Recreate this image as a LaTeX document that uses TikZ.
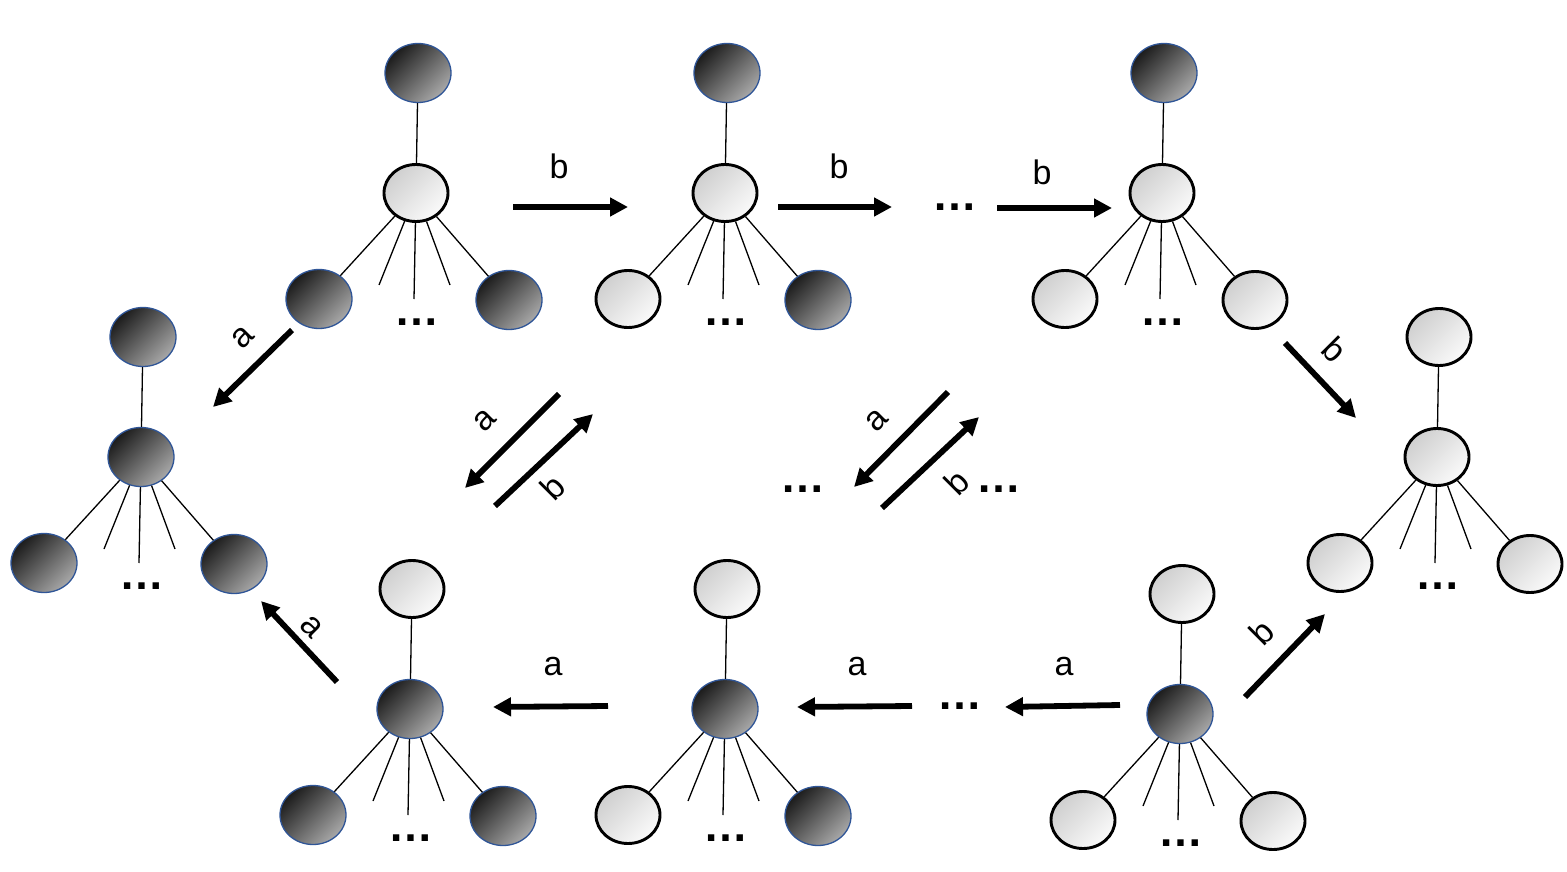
\documentclass[tikz,border=0pt]{standalone}
\usepackage{fontspec}
\setmainfont{Liberation Sans}
\usetikzlibrary{shapes.geometric,arrows.meta,calc}
\definecolor{darkA}{HTML}{1C1C1C}
\definecolor{darkB}{HTML}{A8A8A8}
\definecolor{lightA}{HTML}{CFCFCF}
\definecolor{lightB}{HTML}{FAFAFA}
\definecolor{blueedge}{HTML}{2F5597}
\tikzset{
  ell/.style={ellipse, inner sep=0pt, minimum width=66pt, minimum height=59pt},
  D/.style={ell, draw=blueedge, line width=1.3pt, top color=darkA, bottom color=darkB, shading angle=45},
  L/.style={ell, minimum width=64pt, minimum height=57pt, draw=black, line width=2.9pt, top color=lightA, bottom color=lightB, shading angle=45},
  thin line/.style={draw=black, line width=1.3pt},
  arr/.style={draw=black, line width=5.8pt, -{Triangle[length=18pt,width=18pt]}},
  lab/.style={font=\fontsize{34}{40}\selectfont, inner sep=0pt},
  dots/.style={font=\bfseries\fontsize{45}{50}\selectfont, inner sep=0pt}
}
\newcommand{\mytree}[7]{%
  \node[#5] (#1m) at (#2,#3) {};
  \node[#4] (#1t) at ($(#1m)+(2,-120)$) {};
  \node[#6] (#1l) at ($(#1m)+(-97,106)$) {};
  \node[#7] (#1r) at ($(#1m)+(93,107)$) {};
  \coordinate (#1e1) at ($(#1m)+(-37,92)$);
  \coordinate (#1e2) at ($(#1m)+(-2,106)$);
  \coordinate (#1e3) at ($(#1m)+(34,92)$);
  \node[dots] (#1d) at ($(#1m)+(1,129)$) {…};
  \draw[thin line] (#1t) -- (#1m);
  \draw[thin line] (#1m) -- (#1l);
  \draw[thin line] (#1m) -- (#1r);
  \draw[thin line] (#1m) -- (#1e1);
  \draw[thin line] (#1m) -- (#1e2);
  \draw[thin line] (#1m) -- (#1e3);
}
\begin{document}
\begin{tikzpicture}[x=1pt,y=-1pt]
\useasboundingbox (0,0) rectangle (1567,872);
\fill[white] (0,0) rectangle (1567,872);
% trees
\mytree{A}{416}{193}{D}{L}{D}{D}
\mytree{B}{725}{193}{D}{L}{L}{D}
\mytree{C}{1162}{193}{D}{L}{L}{L}
\mytree{E}{141}{457}{D}{D}{D}{D}
\mytree{F}{1437}{457}{L}{L}{L}{L}
\mytree{G}{410}{709}{L}{D}{D}{D}
\mytree{H}{725}{709}{L}{D}{L}{D}
\mytree{K}{1180}{714}{L}{D}{L}{L}
% arrow end points
\coordinate (p1s) at (513,207); \coordinate (p1e) at (628,207);
\coordinate (p2s) at (778,207); \coordinate (p2e) at (892,207);
\coordinate (p3s) at (997,208); \coordinate (p3e) at (1112,208);
\coordinate (p4s) at (1285,343); \coordinate (p4e) at (1356,418);
\coordinate (p5s) at (292,330); \coordinate (p5e) at (213,407);
\coordinate (p6s) at (337,682); \coordinate (p6e) at (261,601);
\coordinate (q1s) at (608,706); \coordinate (q1e) at (493,707);
\coordinate (q2s) at (912,706); \coordinate (q2e) at (797,707);
\coordinate (q3s) at (1120,705); \coordinate (q3e) at (1005,707);
\coordinate (q4s) at (1245,697); \coordinate (q4e) at (1325,614);
\coordinate (m1s) at (559,394); \coordinate (m1e) at (465,488);
\coordinate (m2s) at (495,506); \coordinate (m2e) at (593,414);
\coordinate (m3s) at (948,392); \coordinate (m3e) at (854,487);
\coordinate (m4s) at (882,508); \coordinate (m4e) at (979,417);
\draw[arr] (p1s) -- (p1e);
\draw[arr] (p2s) -- (p2e);
\draw[arr] (p3s) -- (p3e);
\draw[arr] (p4s) -- (p4e);
\draw[arr] (p5s) -- (p5e);
\draw[arr] (p6s) -- (p6e);
\draw[arr] (q1s) -- (q1e);
\draw[arr] (q2s) -- (q2e);
\draw[arr] (q3s) -- (q3e);
\draw[arr] (q4s) -- (q4e);
\draw[arr] (m1s) -- (m1e);
\draw[arr] (m2s) -- (m2e);
\draw[arr] (m3s) -- (m3e);
\draw[arr] (m4s) -- (m4e);
% labels
\node[lab] (l1) at (559,166) {b};
\node[lab] (l2) at (839,166) {b};
\node[lab] (l3) at (1042,172) {b};
\node[lab, rotate=-45] (l4) at (1335,350) {b};
\node[lab, rotate=45] (l5) at (243,337) {a};
\node[lab, rotate=-45] (l6) at (312,627) {a};
\node[lab] (l7) at (553,667) {a};
\node[lab] (l8) at (857,667) {a};
\node[lab] (l9) at (1064,667) {a};
\node[lab, rotate=45] (l10) at (1262,632) {b};
\node[lab, rotate=45] (l11) at (485,420) {a};
\node[lab, rotate=45] (l12) at (553,487) {b};
\node[lab, rotate=45] (l13) at (877,420) {a};
\node[lab, rotate=45] (l14) at (957,482) {b};
% ellipses
\node[dots] (d1) at (955,207) {…};
\node[dots] (d2) at (960,706) {…};
\node[dots] (d3) at (803,489) {…};
\node[dots] (d4) at (999,489) {…};
\end{tikzpicture}
\end{document}
